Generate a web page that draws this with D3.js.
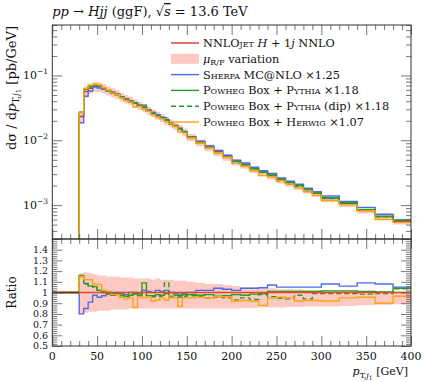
<!DOCTYPE html>
<html>
<head>
<meta charset="utf-8">
<script src="https://cdn.jsdelivr.net/npm/d3@7"></script>
<style>
  body { margin: 0; background: #fff; }
  svg text { font-family: "DejaVu Serif", "Liberation Serif", serif; fill: #111; }
  .sc { font-variant: small-caps; }
</style>
</head>
<body>
<svg id="chart" width="424" height="382"></svg>
<script>
// bin edges in pT [GeV]
const xEdges = [30, 35, 40, 45, 50, 55, 60, 65, 70, 75, 80, 85, 90, 95, 100, 105, 110, 115, 120, 125,
  130, 135, 140, 145, 150, 160, 170, 180, 190, 200, 210, 220, 230, 240, 250, 260, 270, 280, 290,
  300, 320, 340, 360, 380, 400];

// NNLOJET H+1j NNLO, dsigma/dpT [pb/GeV]
const nnlo = [0.0233, 0.0562, 0.0632, 0.0679, 0.0672, 0.0632, 0.0589, 0.0550, 0.0513, 0.0472,
  0.0438, 0.0407, 0.0377, 0.0347, 0.0320, 0.0291, 0.0268, 0.0244, 0.0225, 0.0205,
  0.0186, 0.0170, 0.0154, 0.0137, 0.0114, 0.0095, 0.0080, 0.0067, 0.0057, 0.00482,
  0.00429, 0.00369, 0.00324, 0.00288, 0.00250, 0.00222, 0.00200, 0.00173, 0.00153,
  0.00128, 0.00107, 0.000847, 0.000668, 0.000562];

// mu_R/F variation, relative to NNLO
const scaleUp = [1.18, 1.19, 1.18, 1.17, 1.16, 1.16, 1.15, 1.15, 1.15, 1.14, 1.14, 1.14, 1.13, 1.13,
  1.13, 1.13, 1.12, 1.13, 1.12, 1.12, 1.12, 1.11, 1.11, 1.11, 1.10, 1.09, 1.08, 1.08, 1.07, 1.06,
  1.05, 1.05, 1.04, 1.04, 1.03, 1.03, 1.03, 1.02, 1.02, 1.02, 1.02, 1.01, 1.01, 1.01];
const scaleDown = [0.80, 0.81, 0.82, 0.82, 0.83, 0.83, 0.83, 0.84, 0.84, 0.84, 0.84, 0.85, 0.85, 0.85,
  0.85, 0.85, 0.85, 0.85, 0.85, 0.85, 0.85, 0.85, 0.85, 0.85, 0.85, 0.85, 0.85, 0.85, 0.85, 0.85,
  0.855, 0.855, 0.86, 0.86, 0.86, 0.865, 0.865, 0.87, 0.87, 0.87, 0.875, 0.88, 0.885, 0.89];

// generators, ratio to NNLO (already scaled by their K-factors)
const sherpa = [0.80, 0.85, 0.91, 0.975, 0.955, 0.97, 0.985, 0.99, 1.0, 0.99, 0.98, 1.0, 1.0, 0.99,
  1.02, 1.01, 1.0, 1.02, 1.01, 1.02, 1.0, 0.99, 0.985, 0.99, 1.0, 1.02, 1.02, 1.04, 1.03, 1.02,
  1.04, 1.04, 1.045, 1.07, 1.05, 1.05, 1.05, 1.05, 1.05, 1.08, 1.06, 1.09, 1.08, 1.05];
const pythia = [1.16, 1.085, 1.06, 1.055, 1.02, 1.01, 0.99, 0.975, 0.99, 0.975, 0.965, 0.975, 0.99,
  0.975, 1.09, 0.97, 0.97, 0.98, 0.975, 0.99, 0.96, 0.975, 0.97, 0.98, 0.98, 0.975, 0.98, 0.965,
  0.97, 0.98, 0.975, 0.985, 0.99, 1.01, 1.01, 1.01, 1.01, 1.01, 1.01, 1.015, 1.015, 1.01, 1.005, 1.04];
const pythiaDip = [1.15, 1.08, 1.06, 1.05, 1.02, 1.0, 0.985, 0.975, 0.98, 0.97, 0.96, 0.97, 0.985,
  0.97, 0.98, 0.965, 0.96, 0.97, 0.965, 1.09, 0.96, 0.965, 0.955, 0.965, 0.97, 0.96, 0.95, 0.955,
  0.95, 0.93, 0.95, 0.935, 0.98, 0.96, 0.945, 0.94, 0.975, 0.94, 0.99, 0.99, 0.99, 0.985, 0.99, 1.035];
const herwig = [1.15, 1.12, 1.12, 1.075, 1.075, 1.02, 1.01, 0.98, 0.98, 0.955, 0.94, 0.95, 0.86,
  0.96, 0.95, 0.96, 0.92, 0.93, 0.95, 0.93, 0.97, 0.95, 0.87, 0.95, 0.95, 0.955, 0.95, 0.96, 0.96,
  0.92, 0.925, 0.92, 0.88, 0.95, 0.955, 0.95, 0.92, 0.925, 0.925, 0.92, 0.95, 0.955, 0.90, 0.965];

const xTicks = [0, 50, 100, 150, 200, 250, 300, 350, 400];
const ratioTicks = [0.5, 0.6, 0.7, 0.8, 0.9, 1, 1.1, 1.2, 1.3, 1.4];
const logTicks = [1e-3, 1e-2, 1e-1];

const colors = { nnlo: '#d8352a', band: '#fcc9c3', sherpa: '#4a6cf2', pythia: '#2a9a2a', herwig: '#ffa20f' };

const svg = d3.select('#chart');
const L = 52.3, R = 411, T1 = 25, B1 = 239, B2 = 346;

const x = d3.scaleLinear().domain([0, 400]).range([L, R]);
const y = d3.scaleLog().domain([3e-4, 0.6]).range([B1, T1]);
const yr = d3.scaleLinear().domain([0.5, 1.5]).range([B2, B1]);

const defs = svg.append('defs');
defs.append('clipPath').attr('id', 'clipMain').append('rect')
  .attr('x', L).attr('y', T1).attr('width', R - L).attr('height', B1 - T1);
defs.append('clipPath').attr('id', 'clipRatio').append('rect')
  .attr('x', L).attr('y', B1).attr('width', R - L).attr('height', B2 - B1);

// step points, last edge repeats last value
function steps(vals) {
  return xEdges.map((e, i) => [e, vals[Math.min(i, vals.length - 1)]]);
}
const scaled = r => nnlo.map((v, i) => v * r[i]);

const lineMain = d3.line().x(d => x(d[0])).y(d => y(d[1])).curve(d3.curveStepAfter);
const lineRatio = d3.line().x(d => x(d[0])).y(d => yr(d[1])).curve(d3.curveStepAfter);

// ---- main panel
const gMain = svg.append('g').attr('clip-path', 'url(#clipMain)');

const bandPts = xEdges.map((e, i) => {
  const k = Math.min(i, nnlo.length - 1);
  return [e, nnlo[k] * scaleDown[k], nnlo[k] * scaleUp[k]];
});
gMain.append('path')
  .attr('d', d3.area().x(d => x(d[0])).y0(d => y(d[1])).y1(d => y(d[2])).curve(d3.curveStepAfter)(bandPts))
  .attr('fill', colors.band);

const series = [
  { vals: nnlo, ratio: null, color: colors.nnlo, dash: null },
  { vals: scaled(sherpa), ratio: sherpa, color: colors.sherpa, dash: null },
  { vals: scaled(pythia), ratio: pythia, color: colors.pythia, dash: null },
  { vals: scaled(pythiaDip), ratio: pythiaDip, color: colors.pythia, dash: '5,3' },
  { vals: scaled(herwig), ratio: herwig, color: colors.herwig, dash: null }
];

series.forEach(s => {
  gMain.append('path')
    .attr('d', lineMain([[30, 1e-6]].concat(steps(s.vals))))
    .attr('fill', 'none')
    .attr('stroke', s.color)
    .attr('stroke-width', 1.4)
    .attr('stroke-dasharray', s.dash);
});

// ---- ratio panel
const gRatio = svg.append('g').attr('clip-path', 'url(#clipRatio)');
const ratioBand = xEdges.map((e, i) => {
  const k = Math.min(i, nnlo.length - 1);
  return [e, scaleDown[k], scaleUp[k]];
});
gRatio.append('path')
  .attr('d', d3.area().x(d => x(d[0])).y0(d => yr(d[1])).y1(d => yr(d[2])).curve(d3.curveStepAfter)(ratioBand))
  .attr('fill', colors.band);

series.filter(s => s.ratio).forEach(s => {
  gRatio.append('path')
    .attr('d', lineRatio([[0, 1]].concat(steps(s.ratio))))
    .attr('fill', 'none')
    .attr('stroke', s.color)
    .attr('stroke-width', 1.4)
    .attr('stroke-dasharray', s.dash);
});
gRatio.append('path')
  .attr('d', lineRatio([[0, 1], [30, 1]]))
  .attr('stroke', '#7a2a20').attr('stroke-width', 1.4);
gRatio.append('path')
  .attr('d', lineRatio([[30, 1], [400, 1]]))
  .attr('stroke', '#e84a26').attr('stroke-width', 1.4);

// ---- ticks (inside the frame, on all sides)
const tickColor = '#555';
function ticks(axis, tx, ty) {
  svg.append('g').attr('transform', `translate(${tx},${ty})`)
    .call(axis.tickFormat(''))
    .call(g => g.select('.domain').remove())
    .call(g => g.selectAll('line').attr('stroke', tickColor).attr('stroke-width', 0.8));
}
const xMinor = d3.range(0, 401, 10).filter(v => v % 50 !== 0);
[[T1, d3.axisTop], [B1, d3.axisBottom], [B1, d3.axisTop], [B2, d3.axisBottom]].forEach(([yy, ax]) => {
  ticks(ax(x).tickValues(xTicks).tickSize(-10), 0, yy);
  ticks(ax(x).tickValues(xMinor).tickSize(-5), 0, yy);
});

const logMinor = y.ticks().filter(v => !logTicks.some(t => Math.abs(t - v) < 1e-12));
const ratioMinor = d3.range(50, 151, 2).map(v => v / 100).filter(v => Math.round(v * 100) % 10 !== 0);
const ratioMajor = ratioTicks.concat([1.5]);
[[L, d3.axisLeft], [R, d3.axisRight]].forEach(([xx, ax]) => {
  ticks(ax(y).tickValues(logTicks).tickSize(-10), xx, 0);
  ticks(ax(y).tickValues(logMinor).tickSize(-5), xx, 0);
  ticks(ax(yr).tickValues(ratioMajor).tickSize(-10), xx, 0);
  ticks(ax(yr).tickValues(ratioMinor).tickSize(-5), xx, 0);
});

// frames
[[T1, B1], [B1, B2]].forEach(([a, b]) => {
  svg.append('rect').attr('x', L).attr('y', a).attr('width', R - L).attr('height', b - a)
    .attr('fill', 'none').attr('stroke', '#333').attr('stroke-width', 1);
});

// ---- tick labels
const fs = 11;
svg.append('g').selectAll('text').data(xTicks).join('text')
  .attr('x', d => x(d)).attr('y', 360).attr('text-anchor', 'middle')
  .attr('font-size', fs).text(d => d);

svg.append('g').selectAll('text').data(ratioTicks).join('text')
  .attr('x', 48).attr('y', d => yr(d) + 3.3).attr('text-anchor', 'end')
  .attr('font-size', 9.5).text(d => d);

const logLab = svg.append('g').selectAll('text').data(logTicks).join('text')
  .attr('x', 48).attr('y', d => y(d) + 4).attr('text-anchor', 'end').attr('font-size', fs);
logLab.append('tspan').text('10');
logLab.append('tspan').attr('dy', -5).attr('font-size', 7.5).text(d => '\u2212' + Math.round(-Math.log10(d)));

// ---- axis titles
const yLab = svg.append('text').attr('transform', 'translate(16,26) rotate(-90)')
  .attr('text-anchor', 'end').attr('font-size', 13);
yLab.append('tspan').text('d\u03c3 / d');
yLab.append('tspan').attr('font-style', 'italic').text('p');
yLab.append('tspan').attr('dy', 3).attr('font-size', 9).text('T,');
yLab.append('tspan').attr('font-size', 9).attr('font-style', 'italic').text('j');
yLab.append('tspan').attr('dy', 1.5).attr('font-size', 7).text('1');
yLab.append('tspan').attr('dy', -4.5).text(' [pb/GeV]');

svg.append('text').attr('transform', `translate(16,${yr(1)}) rotate(-90)`)
  .attr('text-anchor', 'middle').attr('font-size', 12).text('Ratio');

const xLab = svg.append('text').attr('x', 408).attr('y', 375).attr('text-anchor', 'end').attr('font-size', 11);
xLab.append('tspan').attr('font-style', 'italic').text('p');
xLab.append('tspan').attr('dy', 3).attr('font-size', 8).text('T,');
xLab.append('tspan').attr('font-size', 8).attr('font-style', 'italic').text('j');
xLab.append('tspan').attr('dy', 1.5).attr('font-size', 6).text('1');
xLab.append('tspan').attr('dy', -4.5).text(' [GeV]');

// ---- title
const title = svg.append('text').attr('x', L).attr('y', 16).attr('font-size', 13);
title.append('tspan').attr('font-style', 'italic').text('pp');
title.append('tspan').text(' \u2192 ');
title.append('tspan').attr('font-style', 'italic').text('Hjj');
title.append('tspan').text(' (ggF), \u221a');
title.append('tspan').attr('font-style', 'italic').style('text-decoration', 'overline').text('s');
title.append('tspan').text(' = 13.6 TeV');

// ---- legend
const legend = [
  { parts: [['NNLO'], ['jet', 'sc'], [' '], ['H', 'it'], [' + 1'], ['j', 'it'], [' NNLO']], color: colors.nnlo },
  { parts: [['\u03bc', 'it'], ['R/F', 'sub'], [' variation']], band: true },
  { parts: [['S'], ['herpa', 'sc'], [' MC@NLO \u00d71.25']], color: colors.sherpa },
  { parts: [['P'], ['owheg', 'sc'], [' Box + P'], ['ythia', 'sc'], [' \u00d71.18']], color: colors.pythia },
  { parts: [['P'], ['owheg', 'sc'], [' Box + P'], ['ythia', 'sc'], [' (dip) \u00d71.18']], color: colors.pythia, dash: '5,3' },
  { parts: [['P'], ['owheg', 'sc'], [' Box + H'], ['erwig', 'sc'], [' \u00d71.07']], color: colors.herwig }
];
const gLeg = svg.append('g');
legend.forEach((d, i) => {
  const cy = 43 + i * 15.8;
  if (d.band) {
    gLeg.append('rect').attr('x', 171).attr('y', cy - 5).attr('width', 28).attr('height', 10).attr('fill', colors.band);
  } else {
    gLeg.append('line').attr('x1', 171).attr('x2', 199).attr('y1', cy).attr('y2', cy)
      .attr('stroke', d.color).attr('stroke-width', 1.4).attr('stroke-dasharray', d.dash || null);
  }
  const t = gLeg.append('text').attr('x', 203).attr('y', cy + 4).attr('font-size', 11.3);
  d.parts.forEach(([s, k]) => {
    const sp = t.append('tspan').text(s);
    if (k === 'sc') sp.attr('class', 'sc');
    if (k === 'it') sp.attr('font-style', 'italic');
    if (k === 'sub') sp.attr('font-size', 8).attr('dy', 2.5);
    else if (d.band && s === ' variation') sp.attr('dy', -2.5);
  });
});
</script>
</body>
</html>
